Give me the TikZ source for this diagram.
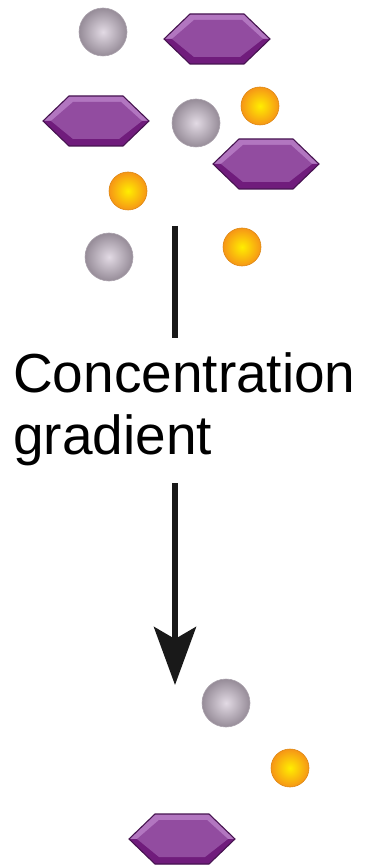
\documentclass[tikz,border=0pt]{standalone}
\usepackage{fontspec}
\setmainfont{Liberation Sans}
\usetikzlibrary{arrows.meta,positioning}
\definecolor{molgray}{RGB}{226,218,228}
\definecolor{molgrayedge}{RGB}{150,140,152}
\definecolor{molyellow}{RGB}{255,238,0}
\definecolor{molorange}{RGB}{246,150,22}
\definecolor{hexlight}{RGB}{178,118,192}
\definecolor{hexmid}{RGB}{146,76,160}
\definecolor{hexdark}{RGB}{112,28,124}
\definecolor{hexline}{RGB}{70,20,80}

\tikzset{
  graymol/.style={shading=radial,inner color=molgray,outer color=molgrayedge,draw=molgrayedge!80,line width=0.6},
  orangemol/.style={shading=radial,inner color=molyellow,outer color=molorange,draw=molorange!90!black,line width=0.6},
  hexmol/.pic={
    % bevelled hexagon, drawn in pixel units (y grows downwards)
    \fill[hexlight] (-53,0) -- (-27,-25) -- (27,-25) -- (53,0) -- (27,25) -- (-27,25) -- cycle;
    \fill[hexdark] (-53,0) -- (53,0) -- (27,25) -- (-27,25) -- cycle;
    \fill[hexmid] (-45,0) -- (-23,-19) -- (25,-19) -- (46,0) -- (23,18) -- (-23,18) -- cycle;
    \draw[hexline,line width=1.1,line join=round] (-53,0) -- (-27,-25) -- (27,-25) -- (53,0) -- (27,25) -- (-27,25) -- cycle;
  },
  label/.style={font=\fontsize{55}{62}\selectfont,align=left,inner sep=0pt},
  gradline/.style={line width=6,black!90}
}

\begin{document}
\begin{tikzpicture}[x=1pt,y=-1pt]
  \useasboundingbox (0,0) rectangle (364,866);
  % High concentration side
  \shade[graymol] (103,32) circle (24);
  \pic at (217,39) {hexmol};
  \pic at (96,121) {hexmol};
  \shade[graymol] (196,123) circle (24);
  \shade[orangemol] (260,106) circle (19);
  \pic at (266,164) {hexmol};
  \shade[orangemol] (128,191) circle (19);
  \shade[graymol] (109,257) circle (24);
  \shade[orangemol] (242,247) circle (19);
  % Gradient label and arrow
  \node[label,anchor=north west] (grad) at (13,352) {Concentration\\gradient};
  \coordinate (topend) at (175,226);
  \coordinate (midend) at (175,338);
  \coordinate (arrstart) at (175,483);
  \coordinate (arrtip) at (175,685);
  \draw[gradline] (topend) -- (midend);
  \draw[gradline,-{Stealth[width=42,length=58,inset=12]}] (arrstart) -- (arrtip);
  % Low concentration side
  \shade[graymol] (226,703) circle (24);
  \shade[orangemol] (290,768) circle (19);
  \pic at (182,839) {hexmol};
\end{tikzpicture}
\end{document}
